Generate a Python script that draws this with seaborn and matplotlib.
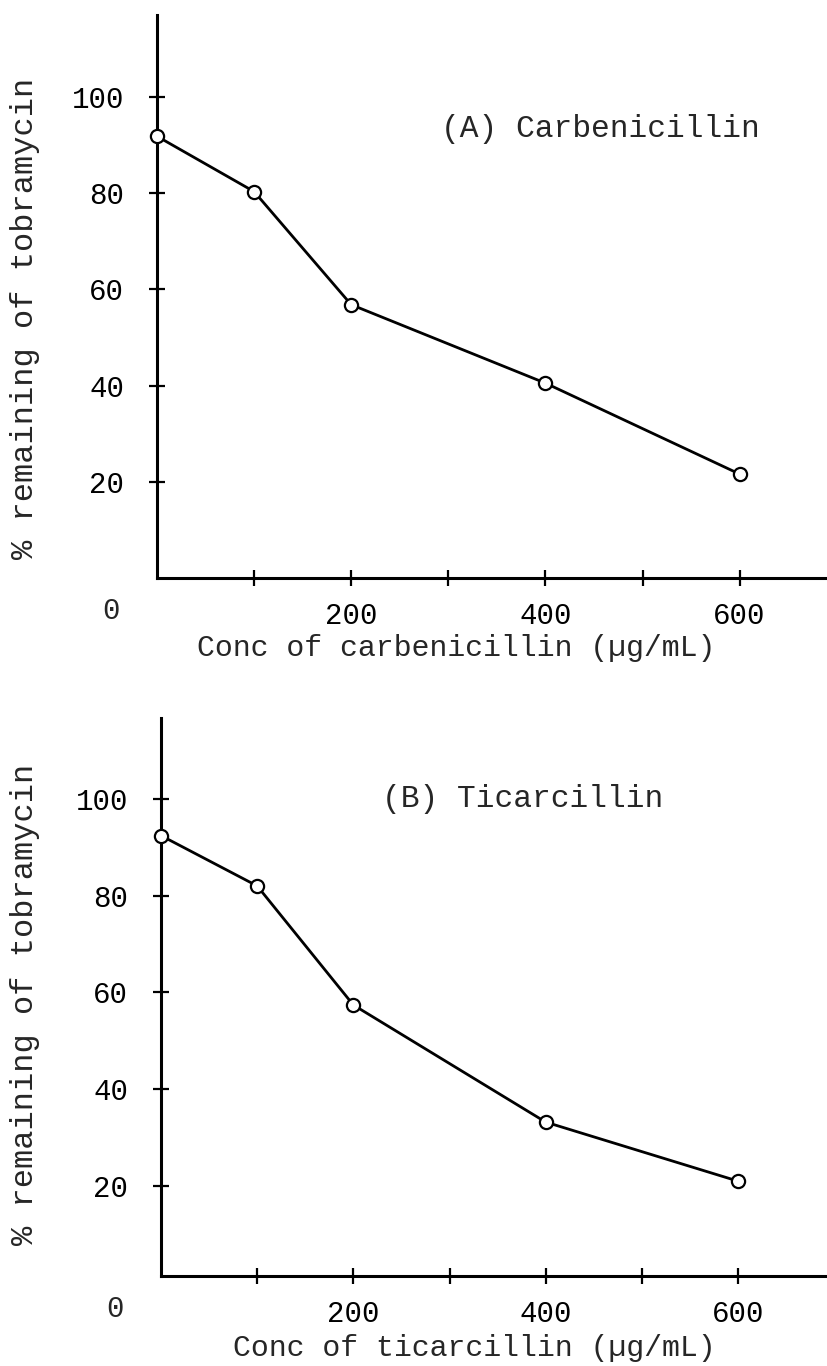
import matplotlib
matplotlib.use("Agg")
import matplotlib.pyplot as plt
import seaborn as sns
import pandas as pd

# Tobramycin inactivation by two penicillins
conc = [0, 100, 200, 400, 600]                      # µg/mL
carbenicillin_pct = [91.8, 80.3, 56.8, 40.5, 21.6]  # % tobramycin remaining
ticarcillin_pct = [92.4, 82.0, 57.4, 33.2, 21.0]

y_ticks = [20, 40, 60, 80, 100]
x_ticks = [100, 200, 300, 400, 500, 600]
x_tick_labels = ["", "200", "", "400", "", "600"]

panel_titles = ["(A) Carbenicillin", "(B) Ticarcillin"]
x_labels = ["Conc of carbenicillin (µg/mL)", "Conc of ticarcillin (µg/mL)"]
y_label = "% remaining of tobramycin"

sns.set_style("ticks")
plt.rcParams["font.family"] = ["Liberation Mono", "DejaVu Sans Mono"]

fig = plt.figure(figsize=(8.27, 13.66), dpi=100)

W, H = 827, 1366
# axes boxes in pixels: left, axis line y, right, top
boxes = [(157, 578, 827, 15), (161, 1276, 827, 718)]
xlims = [(0, 690), (0, 692.5)]
ylims = [(0, 117.0), (1.4, 116.7)]
title_pos = [(292, 93.3), (230, 100.0)]
xlabel_pos = [(0.446, -0.124), (0.47, -0.129)]
ylabel_pos = [(-0.197, 0.462), (-0.204, 0.487)]

frames = [
    pd.DataFrame({"conc": conc, "pct": carbenicillin_pct}),
    pd.DataFrame({"conc": conc, "pct": ticarcillin_pct}),
]

for i, df in enumerate(frames):
    l, b, r, t = boxes[i]
    ax = fig.add_axes([l / W, 1 - b / H, (r - l) / W, (b - t) / H])
    sns.lineplot(data=df, x="conc", y="pct", ax=ax, color="black",
                 linewidth=2.0, marker="o", markersize=9.5,
                 markerfacecolor="white", markeredgecolor="black",
                 markeredgewidth=1.6, clip_on=False, zorder=3)
    ax.set_xlim(*xlims[i])
    ax.set_ylim(*ylims[i])
    ax.set_xticks(x_ticks)
    ax.set_xticklabels(x_tick_labels)
    ax.set_yticks(y_ticks)
    for side in ("top", "right"):
        ax.spines[side].set_visible(False)
    for side in ("left", "bottom"):
        ax.spines[side].set_linewidth(2.2)
        ax.spines[side].set_color("black")
    ax.tick_params(axis="both", direction="inout", length=11, width=1.6,
                   color="black", labelcolor="black")
    ax.tick_params(axis="x", labelsize=21, pad=11.5)
    ax.tick_params(axis="y", labelsize=21, pad=18)

    ax.set_xlabel(x_labels[i], fontsize=21.5, va="center")
    ax.xaxis.set_label_coords(*xlabel_pos[i])
    ax.set_ylabel(y_label, fontsize=23, va="center")
    ax.yaxis.set_label_coords(*ylabel_pos[i])

    # shared origin label
    ax.annotate("0", xy=(0, ylims[i][0]), xytext=(-33, -24),
                textcoords="offset points", ha="center", va="center",
                fontsize=21, annotation_clip=False)
    ax.text(title_pos[i][0], title_pos[i][1], panel_titles[i],
            fontsize=22.5, ha="left", va="center")

fig.savefig("out.png", dpi=100, facecolor="white")
